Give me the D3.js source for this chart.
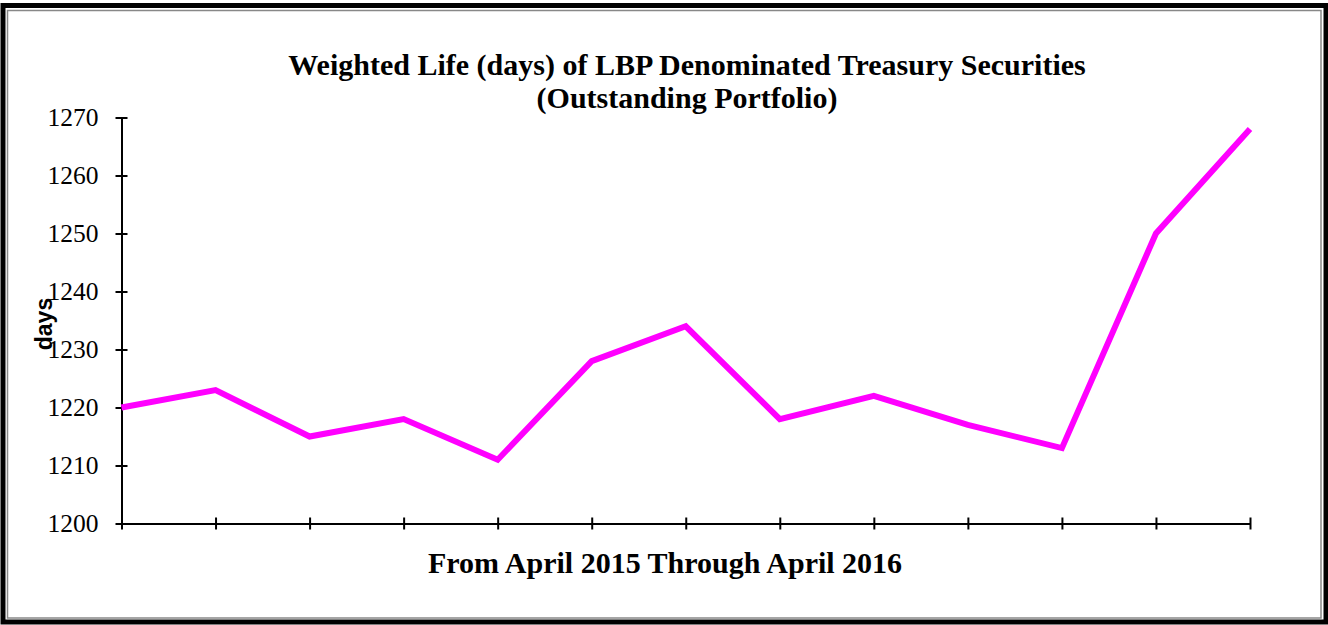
<!DOCTYPE html>
<html>
<head>
<meta charset="utf-8">
<script src="https://cdn.jsdelivr.net/npm/d3@7"></script>
<style>
  html, body { margin: 0; padding: 0; background: #fff; }
  svg { display: block; }
</style>
</head>
<body>
<svg id="chart" width="1328" height="625"></svg>
<script>
"use strict";

// Monthly points, April 2015 through April 2016
const months = ["Apr-15", "May-15", "Jun-15", "Jul-15", "Aug-15", "Sep-15", "Oct-15",
  "Nov-15", "Dec-15", "Jan-16", "Feb-16", "Mar-16", "Apr-16"];
const weightedLife = [1220, 1223, 1215, 1218, 1211, 1228, 1234, 1218, 1222, 1217, 1213, 1250, 1268];
const yTicks = [1200, 1210, 1220, 1230, 1240, 1250, 1260, 1270];

const titleLines = ["Weighted Life (days) of LBP Denominated Treasury Securities", "(Outstanding Portfolio)"];
const xTitle = "From April 2015 Through April 2016";
const yTitle = "days";

const width = 1328, height = 625;
const margin = { left: 121.5, right: 78, top: 117.5, bottom: 101.5 };
const serif = "'Liberation Serif', 'Times New Roman', serif";

const svg = d3.select("#chart");

// frame: thick black outer edge with thin grey inner line
svg.append("rect")
  .attr("x", 3).attr("y", 5.5)
  .attr("width", width - 5).attr("height", height - 8.5)
  .attr("fill", "#fff")
  .attr("stroke", "#000")
  .attr("stroke-width", 5);
svg.append("rect")
  .attr("x", 7.5).attr("y", 10.5)
  .attr("width", width - 14.5).attr("height", height - 17.5)
  .attr("fill", "none")
  .attr("stroke", "#888")
  .attr("stroke-width", 1.5);

const x = d3.scalePoint()
  .domain(months)
  .range([margin.left, width - margin.right]);

const y = d3.scaleLinear()
  .domain([1200, 1270])
  .range([height - margin.bottom, margin.top]);

// title
svg.append("text")
  .attr("x", 687)
  .attr("y", 75)
  .attr("text-anchor", "middle")
  .style("font-family", serif)
  .style("font-weight", "bold")
  .style("font-size", "30px")
  .selectAll("tspan")
  .data(titleLines)
  .join("tspan")
  .attr("x", 687)
  .attr("dy", (d, i) => i === 0 ? 0 : 33)
  .text(d => d);

// y axis
const yAxis = svg.append("g")
  .attr("transform", `translate(${margin.left},0)`)
  .call(d3.axisLeft(y).tickValues(yTicks).tickSize(0).tickPadding(23).tickFormat(d3.format("d")));
yAxis.select(".domain").attr("stroke", "#000").attr("stroke-width", 2);
yAxis.selectAll(".tick text")
  .style("font-family", serif)
  .style("font-size", "25.5px")
  .attr("fill", "#000");
yAxis.selectAll(".tick")
  .append("line")
  .attr("x1", -6).attr("x2", 6)
  .attr("stroke", "#000").attr("stroke-width", 2);

// x axis
const xAxis = svg.append("g")
  .attr("transform", `translate(0,${height - margin.bottom})`)
  .call(d3.axisBottom(x).tickSize(0).tickFormat(""));
xAxis.select(".domain").attr("stroke", "#000").attr("stroke-width", 2);
xAxis.selectAll(".tick")
  .append("line")
  .attr("y1", -6).attr("y2", 6)
  .attr("stroke", "#000").attr("stroke-width", 2);

// axis titles
svg.append("text")
  .attr("x", 665)
  .attr("y", 573)
  .attr("text-anchor", "middle")
  .style("font-family", serif)
  .style("font-weight", "bold")
  .style("font-size", "30px")
  .text(xTitle);

svg.append("text")
  .attr("transform", "translate(52,324) rotate(-90)")
  .attr("text-anchor", "middle")
  .style("font-family", "'Liberation Sans', Arial, sans-serif")
  .style("font-weight", "bold")
  .style("font-size", "23px")
  .text(yTitle);

// series line
const line = d3.line()
  .x((d, i) => x(months[i]))
  .y(d => y(d));

svg.append("path")
  .datum(weightedLife)
  .attr("fill", "none")
  .attr("stroke", "#ff00ff")
  .attr("stroke-width", 6)
  .attr("stroke-linejoin", "miter")
  .attr("d", line);
</script>
</body>
</html>
